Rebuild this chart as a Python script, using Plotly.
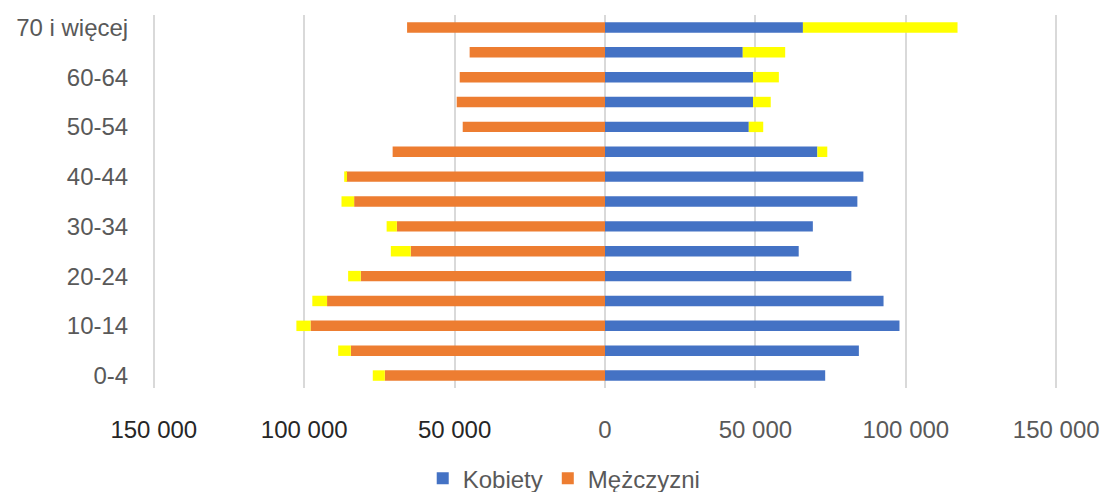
import plotly.graph_objects as go

# Age groups, youngest first (drawn bottom to top)
age_groups = ["0-4", "5-9", "10-14", "15-19", "20-24", "25-29", "30-34", "35-39",
              "40-44", "45-49", "50-54", "55-59", "60-64", "65-69", "70 i więcej"]

kobiety = [73200, 84400, 97900, 92600, 81900, 64400, 69100, 83900,
           85900, 70600, 47800, 49200, 49200, 45800, 65800]
kobiety_extra = [0, 0, 0, 0, 0, 0, 0, 0,
                 0, 3300, 4800, 5900, 8600, 14100, 51400]

mezczyzni = [73200, 84500, 97900, 92400, 81200, 64600, 69200, 83400,
             86100, 70600, 47300, 49300, 48300, 45000, 65800]
mezczyzni_extra = [4000, 4200, 4700, 4900, 4200, 6600, 3400, 4200,
                   600, 0, 0, 0, 0, 0, 0]

x_ticks = [-150000, -100000, -50000, 0, 50000, 100000, 150000]
x_tick_labels = ["150 000", "100 000", "50 000", "0", "50 000", "100 000", "150 000"]
y_tick_labels = age_groups[::2]

BLUE = "#4472C4"
ORANGE = "#ED7D31"
YELLOW = "#FFFF00"
FONT = "Liberation Sans, Arial, sans-serif"

fig = go.Figure()
fig.add_trace(go.Bar(y=age_groups, x=kobiety, orientation="h", name="Kobiety",
                     marker=dict(color=BLUE, line=dict(width=0))))
fig.add_trace(go.Bar(y=age_groups, x=kobiety_extra, orientation="h", name="Kobiety+",
                     marker=dict(color=YELLOW, line=dict(width=0)), showlegend=False))
fig.add_trace(go.Bar(y=age_groups, x=[-v for v in mezczyzni], orientation="h", name="Mężczyzni",
                     marker=dict(color=ORANGE, line=dict(width=0))))
fig.add_trace(go.Bar(y=age_groups, x=[-v for v in mezczyzni_extra], orientation="h", name="Mężczyzni+",
                     marker=dict(color=YELLOW, line=dict(width=0)), showlegend=False))

tick_colors = ["#262626"] * 3 + ["#595959"] * 4
tick_text = [f"<span style='color:{c}'>{t}</span>" for c, t in zip(tick_colors, x_tick_labels)]

fig.update_layout(
    width=1105, height=492,
    margin=dict(l=152, r=47, t=15, b=104, autoexpand=False),
    paper_bgcolor="white", plot_bgcolor="white",
    barmode="relative", bargap=0.58,
    font=dict(family=FONT, size=24, color="#595959"),
    showlegend=True,
    legend=dict(orientation="h", x=0.455, xanchor="center",
                yref="container", y=0.027, yanchor="middle",
                font=dict(size=24, color="#595959"), itemwidth=30,
                traceorder="normal"),
    xaxis=dict(
        range=[-150600, 150600], tickvals=x_ticks, ticktext=tick_text,
        showgrid=True, gridcolor="#D9D9D9", gridwidth=2,
        zeroline=True, zerolinecolor="#D9D9D9", zerolinewidth=2,
        ticks="outside", ticklen=20, tickcolor="white",
        showline=False, tickfont=dict(size=24),
    ),
    yaxis=dict(
        type="category", categoryorder="array", categoryarray=age_groups,
        tickvals=y_tick_labels, ticktext=y_tick_labels,
        showgrid=False, zeroline=False, showline=False,
        ticks="outside", ticklen=18, tickcolor="white",
        tickfont=dict(size=24, color="#595959"),
    ),
)

fig.write_html("out.html")
